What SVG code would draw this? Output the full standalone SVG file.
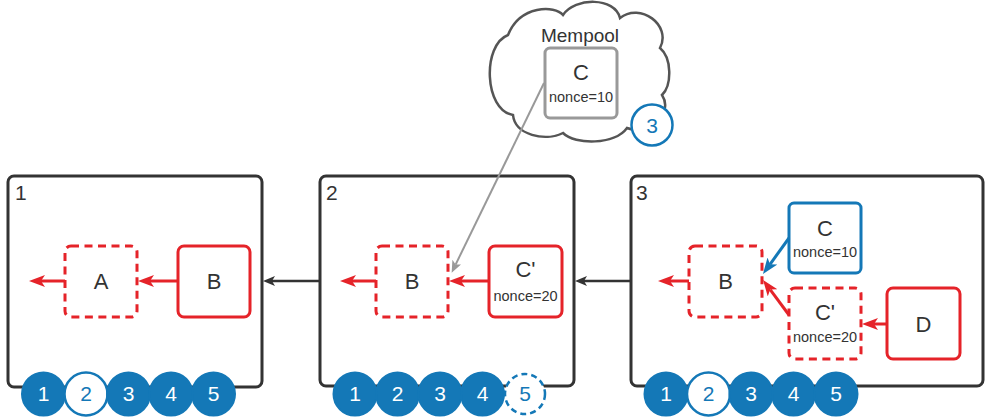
<svg xmlns="http://www.w3.org/2000/svg" width="985" height="417" viewBox="0 0 985 417">
<style>
text{font-family:"Liberation Sans",Arial,sans-serif;fill:#333;text-anchor:middle}
.blk{fill:#fff;stroke:#333;stroke-width:3}
.red{fill:#fff;stroke:#e52329;stroke-width:3}
.dash{stroke-dasharray:8 5.5}
.lbl{font-size:22px}
.nc{font-size:14.5px}
.ttl{font-size:21px;text-anchor:start}
.cf{fill:#1478b7;stroke:#1478b7;stroke-width:2}
.co{fill:#fff;stroke:#1478b7;stroke-width:2.5}
.ct{font-size:21px;fill:#fff}
.cto{font-size:21px;fill:#1478b7}
.rl{stroke:#e52329;stroke-width:3;fill:none;marker-end:url(#ar)}
</style>
<defs>
<marker id="ar" markerUnits="userSpaceOnUse" viewBox="0 0 16 12" refX="4" refY="6" markerWidth="16" markerHeight="12" orient="auto"><path d="M0,0 L16,6 L0,12 L4,6 Z" fill="#e52329"/></marker>
<marker id="ab" markerUnits="userSpaceOnUse" viewBox="0 0 16 12" refX="4" refY="6" markerWidth="16" markerHeight="12" orient="auto"><path d="M0,0 L16,6 L0,12 L4,6 Z" fill="#1478b7"/></marker>
<marker id="ag" markerUnits="userSpaceOnUse" viewBox="0 0 12 10" refX="3" refY="5" markerWidth="12" markerHeight="10" orient="auto"><path d="M0,0 L12,5 L0,10 L3,5 Z" fill="#999"/></marker>
<marker id="ak" markerUnits="userSpaceOnUse" viewBox="0 0 12 10" refX="3" refY="5" markerWidth="12" markerHeight="10" orient="auto"><path d="M0,0 L12,5 L0,10 L3,5 Z" fill="#333"/></marker>
</defs>

<g id="mempool">
<path d="M508,35 C520,5 555,5 563,15 C575,-3 615,-3 620,18 C640,2 672,25 660,48 C672,58 672,85 662,95 C675,115 645,135 627,128 C615,145 575,145 563,133 C545,142 515,135 513,115 C484,110 482,45 508,35 Z" fill="#fff" stroke="#555" stroke-width="2.5"/>
<text x="580" y="42" style="font-size:19px">Mempool</text>
</g>
<g id="memC">
<rect x="545" y="48" width="72" height="70" rx="5" fill="#fff" stroke="#999" stroke-width="3"/>
<text x="581" y="80" class="lbl">C</text>
<text x="581" y="102" class="nc">nonce=10</text>
</g>
<g id="mem3">
<circle cx="652" cy="125" r="20.5" class="co"/>
<text x="652" y="133" class="cto">3</text>
</g>

<g id="block1">
<rect x="8" y="176" width="254" height="211" rx="6" class="blk"/>
<text x="15" y="200" class="ttl">1</text>
</g>
<g id="block2">
<rect x="320" y="176" width="254" height="210" rx="6" class="blk"/>
<text x="326" y="200" class="ttl">2</text>
</g>
<g id="block3">
<rect x="631" y="176" width="352" height="210" rx="6" class="blk"/>
<text x="636" y="200" class="ttl">3</text>
</g>

<g id="b1A"><rect x="65" y="246" width="72" height="71" rx="6" class="red dash"/><text x="101" y="289" class="lbl">A</text></g>
<g id="b1B"><rect x="178" y="246" width="72" height="71" rx="6" class="red"/><text x="214" y="289" class="lbl">B</text></g>

<g id="b2B"><rect x="376" y="246" width="72" height="71" rx="6" class="red dash"/><text x="412" y="289" class="lbl">B</text></g>
<g id="b2C"><rect x="489" y="246" width="73" height="71" rx="6" class="red"/><text x="525.5" y="277" class="lbl">C'</text><text x="525.5" y="300.5" class="nc">nonce=20</text></g>

<g id="b3B"><rect x="689" y="246" width="73" height="71" rx="6" class="red dash"/><text x="725.5" y="289" class="lbl">B</text></g>
<g id="b3C"><rect x="789" y="203" width="72" height="70" rx="5" fill="#fff" stroke="#1478b7" stroke-width="3"/><text x="825" y="236" class="lbl">C</text><text x="825" y="257" class="nc">nonce=10</text></g>
<g id="b3Cp"><rect x="789" y="288" width="72" height="71" rx="6" class="red dash"/><text x="825" y="320" class="lbl">C'</text><text x="825" y="342" class="nc">nonce=20</text></g>
<g id="b3D"><rect x="887" y="288" width="73" height="71" rx="6" class="red"/><text x="923.5" y="332" class="lbl">D</text></g>

<g id="connectors">
<line x1="178" y1="281" x2="150" y2="281" class="rl"/>
<line x1="65" y1="281" x2="41" y2="281" class="rl"/>
<line x1="489" y1="281" x2="461" y2="281" class="rl"/>
<line x1="376" y1="281" x2="352" y2="281" class="rl"/>
<line x1="689" y1="281" x2="670" y2="281" class="rl"/>
<line x1="887" y1="324" x2="874" y2="324" class="rl"/>
<line x1="789" y1="315" x2="770.2" y2="289.6" class="rl"/>
<line x1="789" y1="238" x2="770" y2="264.3" stroke="#1478b7" stroke-width="3" marker-end="url(#ab)"/>
<line x1="544" y1="83" x2="455.6" y2="264.6" stroke="#999" stroke-width="2" marker-end="url(#ag)"/>
<line x1="320" y1="281" x2="272" y2="281" stroke="#333" stroke-width="2.5" marker-end="url(#ak)"/>
<line x1="631" y1="281" x2="584" y2="281" stroke="#333" stroke-width="2.5" marker-end="url(#ak)"/>
</g>

<g id="chain1">
<circle cx="43.5" cy="394" r="21.5" class="cf"/><text x="43.5" y="401" class="ct">1</text>
<circle cx="86" cy="394" r="21.5" class="co"/><text x="86" y="401" class="cto">2</text>
<circle cx="128.5" cy="394" r="21.5" class="cf"/><text x="128.5" y="401" class="ct">3</text>
<circle cx="171" cy="394" r="21.5" class="cf"/><text x="171" y="401" class="ct">4</text>
<circle cx="213.5" cy="394" r="21.5" class="cf"/><text x="213.5" y="401" class="ct">5</text>
</g>
<g id="chain2">
<circle cx="355" cy="394" r="21.5" class="cf"/><text x="355" y="401" class="ct">1</text>
<circle cx="397.5" cy="394" r="21.5" class="cf"/><text x="397.5" y="401" class="ct">2</text>
<circle cx="440" cy="394" r="21.5" class="cf"/><text x="440" y="401" class="ct">3</text>
<circle cx="482.5" cy="394" r="21.5" class="cf"/><text x="482.5" y="401" class="ct">4</text>
<circle cx="525" cy="394" r="20" class="co" stroke-dasharray="6 4"/><text x="525" y="401" class="cto">5</text>
</g>
<g id="chain3">
<circle cx="666" cy="394" r="21.5" class="cf"/><text x="666" y="401" class="ct">1</text>
<circle cx="708.5" cy="394" r="21.5" class="co"/><text x="708.5" y="401" class="cto">2</text>
<circle cx="751" cy="394" r="21.5" class="cf"/><text x="751" y="401" class="ct">3</text>
<circle cx="793.5" cy="394" r="21.5" class="cf"/><text x="793.5" y="401" class="ct">4</text>
<circle cx="836" cy="394" r="21.5" class="cf"/><text x="836" y="401" class="ct">5</text>
</g>
</svg>
